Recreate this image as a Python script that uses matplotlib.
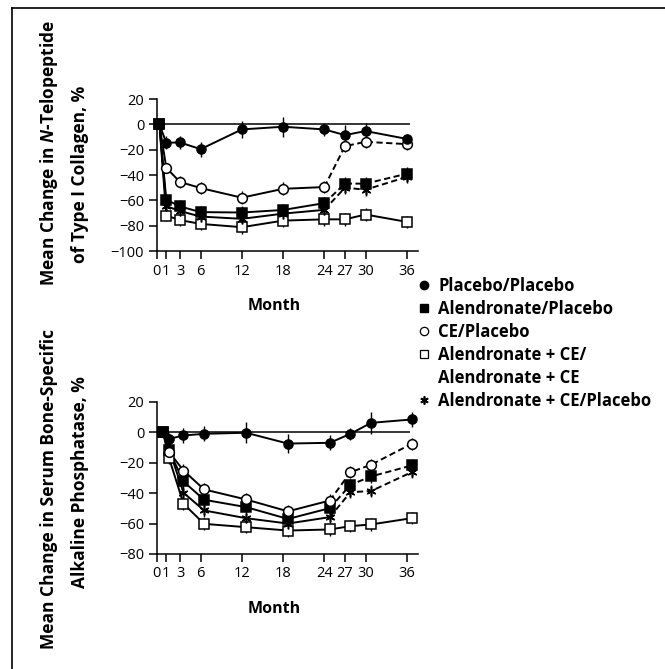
import numpy as np
import matplotlib
matplotlib.use('Agg')
import matplotlib.pyplot as plt
from matplotlib.lines import Line2D

plt.rcParams['font.family'] = ['Open Sans', 'DejaVu Sans']
plt.rcParams['mathtext.fontset'] = 'custom'
plt.rcParams['mathtext.it'] = 'Open Sans:italic:bold'
plt.rcParams['mathtext.rm'] = 'Open Sans:bold'

# Mois (ticks) et positions des points
MOIS = [0, 1, 3, 6, 12, 18, 24, 27, 30, 36]
x_haut = [0, 1, 3, 6, 12, 18, 24, 27, 30, 36]
x_bas = [0.5, 1.4, 3.5, 6.5, 12.6, 18.7, 24.8, 27.8, 30.8, 36.7]

GROUPES = ['Placebo/Placebo', 'Alendronate/Placebo', 'CE/Placebo',
           'Alendronate + CE/', 'Alendronate + CE', 'Alendronate + CE/Placebo']

# N-telopeptide (haut)
pp_haut = [0, -14.5, -14.3, -19.6, -4.0, -1.9, -4.0, -8.5, -5.3, -11.5]
ap_haut = [0, -59.5, -64.8, -69.3, -69.6, -67.6, -62.2, -46.8, -46.8, -39.0]
ce_haut = [0, -34.4, -45.5, -50.3, -57.9, -50.9, -49.5, -17.2, -13.8, -15.6]
acac_haut = [0, -72.0, -75.6, -78.6, -81.2, -76.0, -75.0, -75.0, -71.2, -77.0]
acp_haut = [0, -64.5, -68.5, -72.8, -74.6, -70.5, -67.5, -50.0, -51.6, -41.5]
err_pp_haut = [0, 5, 5, 6, 7, 8, 5, 8, 6, 4]
err_haut = [0, 4, 5, 5, 5, 5, 5, 5, 5, 5]

# Phosphatase alcaline (bas)
pp_bas = [0, -4.4, -2.2, -1.1, -0.4, -7.5, -7.0, -1.1, 6.1, 8.3]
ap_bas = [0, -12.0, -32.4, -44.4, -49.2, -57.0, -49.9, -34.6, -29.1, -21.9]
ce_bas = [0, -13.0, -25.2, -37.6, -44.2, -52.0, -44.9, -26.3, -21.4, -7.7]
acac_bas = [0, -17.0, -47.0, -60.2, -62.4, -64.6, -63.9, -61.7, -60.6, -56.5]
acp_bas = [0, -11.0, -39.8, -51.4, -56.5, -60.0, -55.8, -39.4, -38.7, -26.3]
err_pp_bas = [0, 4, 5, 5, 7, 6, 5, 4, 7, 5]
err_bas = [0, 4, 4, 4, 4, 4, 4, 4, 4, 4]

ASTERISQUE = (6, 2, 0)
XMIN = -0.4


def trace_groupe(ax, x, y, err, marker, remplissage, tirets, ms=6.5):
    """Trace une serie : barres d'erreur, lignes, marqueurs"""
    ax.errorbar(x, y, yerr=err, fmt='none', ecolor='k', elinewidth=1,
                capsize=0, zorder=2, clip_on=False)
    if tirets:
        ax.plot(x[:7], y[:7], '-', color='k', lw=1.4, zorder=3, clip_on=False)
        ax.plot(x[6:], y[6:], '--', dashes=(3.2, 1.8), color='k', lw=1.4,
                zorder=3, clip_on=False)
    else:
        ax.plot(x, y, '-', color='k', lw=1.4, zorder=3, clip_on=False)
    ax.plot(x, y, linestyle='none', marker=marker, mfc=remplissage, mec='k',
            ms=ms, mew=1.1, zorder=4, clip_on=False)


def config_axe(ax, ymin):
    ax.set_xlim(XMIN, 37.7)
    ax.set_ylim(ymin, 20)
    # le tick 0 est pose sur l'axe des ordonnees, comme dans l'original
    ax.set_xticks([XMIN] + MOIS[1:], labels=[str(m) for m in MOIS])
    ax.set_yticks(np.arange(ymin, 21, 20))
    for s in ['top', 'right']:
        ax.spines[s].set_visible(False)
    for s in ['left', 'bottom']:
        ax.spines[s].set_linewidth(1.1)
    ax.tick_params(direction='out', length=6, width=1.1, labelsize=10.5, pad=3)
    ax.hlines(0, 0, 36.4, color='k', lw=1.1, zorder=1)
    ax.set_xlabel('Month', fontsize=11.5, fontweight='bold')
    ax.xaxis.set_label_coords(0.45, -0.31)


fig = plt.figure(figsize=(6.65, 6.69), dpi=100)

ax1 = fig.add_axes([0.2356, 0.6248, 0.3937, 0.2272])
ax2 = fig.add_axes([0.2356, 0.1719, 0.3937, 0.2277])

config_axe(ax1, -100)
config_axe(ax2, -80)

# Haut
trace_groupe(ax1, x_haut, acac_haut, err_haut, 's', 'white', False)
trace_groupe(ax1, x_haut, acp_haut, err_haut, ASTERISQUE, 'k', True, ms=7)
trace_groupe(ax1, x_haut, ap_haut, err_haut, 's', 'k', True)
trace_groupe(ax1, x_haut, ce_haut, err_haut, 'o', 'white', True, ms=7)
trace_groupe(ax1, x_haut, pp_haut, err_pp_haut, 'o', 'k', False)

# Bas
trace_groupe(ax2, x_bas, acac_bas, err_bas, 's', 'white', False)
trace_groupe(ax2, x_bas, acp_bas, err_bas, ASTERISQUE, 'k', True, ms=7)
trace_groupe(ax2, x_bas, ap_bas, err_bas, 's', 'k', True)
trace_groupe(ax2, x_bas, ce_bas, err_bas, 'o', 'white', True, ms=7)
trace_groupe(ax2, x_bas, pp_bas, err_pp_bas, 'o', 'k', False)

# Titres des axes y
fig.text(0.073, 0.771, r'Mean Change in $\mathit{N}$-Telopeptide', rotation=90,
         ha='center', va='center', fontsize=12.5, fontweight='bold')
fig.text(0.121, 0.740, 'of Type I Collagen, %', rotation=90,
         ha='center', va='center', fontsize=12.5, fontweight='bold')
fig.text(0.073, 0.269, 'Mean Change in Serum Bone-Specific', rotation=90,
         ha='center', va='center', fontsize=12.5, fontweight='bold')
fig.text(0.121, 0.280, 'Alkaline Phosphatase, %', rotation=90,
         ha='center', va='center', fontsize=12.5, fontweight='bold')

# Legende
poignees = [
    Line2D([], [], linestyle='none', marker='o', mfc='k', mec='k', ms=6),
    Line2D([], [], linestyle='none', marker='s', mfc='k', mec='k', ms=6),
    Line2D([], [], linestyle='none', marker='o', mfc='white', mec='k', ms=6, mew=0.9),
    Line2D([], [], linestyle='none', marker='s', mfc='white', mec='k', ms=6, mew=0.9),
    Line2D([], [], linestyle='none'),
    Line2D([], [], linestyle='none', marker=ASTERISQUE, mfc='k', mec='k', ms=6, mew=1.2),
]
fig.legend(poignees, GROUPES, loc='upper left', bbox_to_anchor=(0.628, 0.586),
           frameon=False, handlelength=0.8, handletextpad=0.45, labelspacing=0.3,
           borderpad=0, borderaxespad=0,
           prop={'family': 'Open Sans', 'weight': 'bold', 'size': 12})

# Cadre
fig.add_artist(Line2D([12 / 665, 1], [1 - 8 / 669, 1 - 8 / 669],
                      transform=fig.transFigure, color='k', lw=1.2))
fig.add_artist(Line2D([12 / 665, 12 / 665], [0, 1 - 8 / 669],
                      transform=fig.transFigure, color='k', lw=1.2))

fig.savefig('out.png', dpi=100)
